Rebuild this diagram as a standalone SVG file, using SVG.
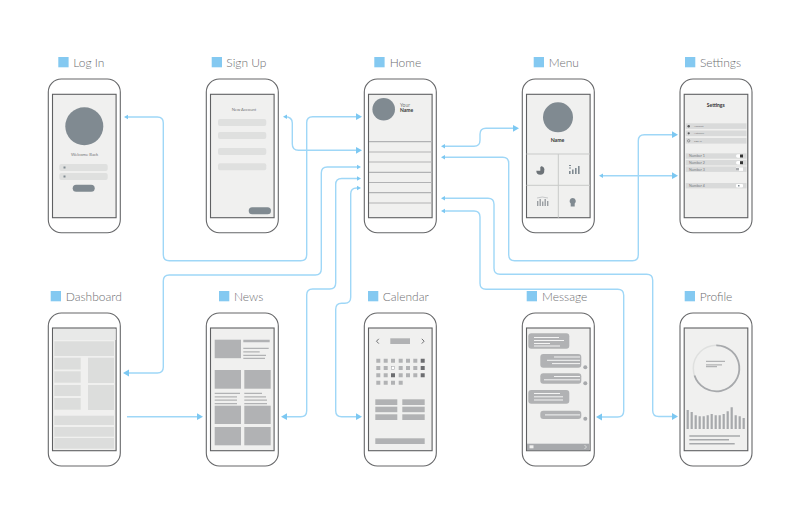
<svg xmlns="http://www.w3.org/2000/svg" width="790" height="526" viewBox="0 0 790 526">
<style>
.body{fill:#fff;stroke:#666769;stroke-width:1.1}
.scr{fill:#f0f0ef;stroke:#5f6062;stroke-width:1.1}
.sq{fill:#84c9f1}
.lb{font-family:Lato,"Liberation Sans",sans-serif;font-size:12px;font-weight:300;fill:#6d6e71}
.t{font-family:Lato,"Liberation Sans",sans-serif;fill:#77787a;text-anchor:middle}
.b{font-weight:700;fill:#333}
.av{fill:#808a91}
.f{fill:#dfe0df}
.g{fill:#b1b2b4}
.d{fill:#dcdddc}
.ln{stroke:#b1b2b4;stroke-width:1.2;fill:none}
.wl{stroke:#f4f4f4;stroke-width:1;fill:none}
.c{fill:none;stroke:#9fd7f7;stroke-width:1.4}
.r{fill:#d9dada}
.st{font-family:Lato,"Liberation Sans",sans-serif;font-size:3.6px;fill:#77787a}
</style>
<defs>
<marker id="s" markerUnits="userSpaceOnUse" markerWidth="6" markerHeight="6" refX="3" refY="3" orient="auto-start-reverse"><path d="M1 .8L5 3L1 5.2Z" fill="#7cc8f2"/></marker>
<marker id="l" markerUnits="userSpaceOnUse" markerWidth="7" markerHeight="8" refX="3" refY="4" orient="auto-start-reverse"><path d="M0 .6L6 4L0 7.4Z" fill="#7cc8f2"/></marker>
<g id="top"><rect class="body" x="0" y="0" width="72" height="153.7" rx="13"/><rect class="scr" x="4.2" y="15.3" width="63.6" height="123.4"/></g>
<g id="bot"><rect class="body" x="0" y="0" width="72" height="153" rx="13"/><rect class="scr" x="4.2" y="15" width="63.6" height="122.7"/></g>
</defs>
<rect width="790" height="526" fill="#fff"/>

<g id="connectors">
<path class="c" marker-start="url(#s)" marker-end="url(#l)" d="M126 117H157.3Q163.3 117 163.3 123V254.7Q163.3 260.7 169.3 260.7H300.7Q306.7 260.7 306.7 254.7V122.7Q306.7 116.7 312.7 116.7H359"/>
<path class="c" marker-start="url(#s)" marker-end="url(#l)" d="M285 116.7Q292.3 116.7 292.3 123V144Q292.3 150.3 298.5 150.3H359"/>
<path class="c" marker-start="url(#l)" marker-end="url(#s)" d="M126 373H157.3Q163.3 373 163.3 367V281Q163.3 275 169.3 275H315.3Q321.3 275 321.3 269V173Q321.3 167 327.3 167H359"/>
<path class="c" marker-start="url(#l)" marker-end="url(#s)" d="M284 416.7H300.7Q306.7 416.7 306.7 410.7V295Q306.7 289 312.7 289H329.7Q335.7 289 335.7 283V184.5Q335.7 178.5 341.7 178.5H359"/>
<path class="c" marker-start="url(#l)" marker-end="url(#s)" d="M359 416.7H341.7Q335.7 416.7 335.7 410.7V309.3Q335.7 303.3 341.7 303.3H344.7Q350.7 303.3 350.7 297.3V194Q350.7 188 356.7 188H359"/>
<path class="c" marker-start="url(#s)" marker-end="url(#l)" d="M443 146.3H474Q480 146.3 480 140.3V134.3Q480 128.3 486 128.3H516"/>
<path class="c" marker-start="url(#s)" marker-end="url(#l)" d="M443 157.3H502.7Q508.7 157.3 508.7 163.3V254.7Q508.7 260.7 514.7 260.7H632.3Q638.3 260.7 638.3 254.7V140.7Q638.3 134.7 644.3 134.7H675"/>
<path class="c" marker-start="url(#s)" marker-end="url(#l)" d="M601 175.7H675"/>
<path class="c" marker-start="url(#s)" marker-end="url(#l)" d="M443 198.3H488Q494 198.3 494 204.3V268.3Q494 274.3 500 274.3H646.7Q652.7 274.3 652.7 280.3V410.5Q652.7 416.5 658.7 416.5H675"/>
<path class="c" marker-start="url(#s)" marker-end="url(#l)" d="M443 211H474Q480 211 480 217V283.3Q480 289.3 486 289.3H617.7Q623.7 289.3 623.7 295.3V411Q623.7 417 617.7 417H599"/>
<path class="c" marker-end="url(#l)" d="M127 416.7H200"/>
</g>

<g id="login">
<rect class="sq" x="58.3" y="57" width="10.3" height="10.3"/><text class="lb" x="73.3" y="66.7">Log In</text>
<use href="#top" x="48.3" y="79"/>
<circle class="av" cx="84.3" cy="126.3" r="19"/>
<text class="t" x="84.5" y="155.5" font-size="4.2">Welcome Back</text>
<rect class="f" x="59.3" y="164" width="48.4" height="7" rx="2"/><rect class="f" x="59.3" y="173" width="48.4" height="7" rx="2"/>
<rect x="63.5" y="166.5" width="2" height="2" fill="#808a91"/><rect x="63.5" y="175.5" width="2" height="2" fill="#808a91"/>
<rect class="av" x="72.7" y="184.7" width="22" height="7" rx="3.5"/>
</g>

<g id="signup">
<rect class="sq" x="211.7" y="57" width="10.3" height="10.3"/><text class="lb" x="226.3" y="66.7">Sign Up</text>
<use href="#top" x="206.3" y="79"/>
<text class="t" x="244" y="110.5" font-size="4.2">New Account</text>
<rect class="f" x="218" y="119" width="48.3" height="7" rx="2"/><rect class="f" x="218" y="132" width="48.3" height="7" rx="2"/><rect class="f" x="218" y="148" width="48.3" height="7" rx="2"/><rect class="f" x="218" y="163.3" width="48.3" height="7" rx="2"/>
<rect class="av" x="248.7" y="207.3" width="22.3" height="7" rx="3.5"/>
</g>

<g id="home">
<rect class="sq" x="374.3" y="57" width="10.3" height="10.3"/><text class="lb" x="389.7" y="66.7">Home</text>
<use href="#top" x="364.3" y="79"/>
<circle class="av" cx="383.7" cy="109.3" r="11.3"/>
<text class="t" x="400" y="106.5" font-size="5" style="text-anchor:start">Your</text>
<text class="t b" x="400" y="111.8" font-size="5" style="text-anchor:start">Name</text>
<path class="ln" d="M369 141.7H432M369 152H432M369 162H432M369 172.3H432M369 182.5H432M369 192.7H432M369 203H432"/>
</g>

<g id="menu">
<rect class="sq" x="533.7" y="57" width="10.3" height="10.3"/><text class="lb" x="548.7" y="66.7">Menu</text>
<use href="#top" x="522.3" y="79"/>
<circle class="av" cx="558" cy="117.3" r="15"/>
<text class="t b" x="557.5" y="142" font-size="5.200">Name</text>
<path d="M526.5 154H590M526.5 185.3H590M558.3 154V217.7" stroke="#c9cac9" stroke-width="1" fill="none"/>
<path d="M540.300 166.700A4 4 0 1 1 536.300 170.700H540.300Z" fill="#6d7378"/><path d="M541 166.200A4 4 0 0 1 544.500 169.800H541Z" fill="#6d7378"/>
<path d="M569 174h1.600v-3h-1.600zM572 174h1.600v-4.500h-1.600zM575 174h1.600v-6h-1.600zM578 174h1.600v-8h-1.600z" fill="#808a91"/>
<path d="M569 165h2v1h-2zM569 167.500h2v1h-2z" fill="#808a91"/>
<path d="M537 206h1.400v-5h-1.400zM539.500 206h1.400v-7h-1.400zM542 206h1.400v-4.500h-1.400zM544.500 206h1.400v-7h-1.400zM547 206h1.400v-5h-1.400z" fill="#9a9ea2"/>
<path d="M537 198q5-2 11 0" fill="none" stroke="#9a9ea2" stroke-width=".5"/>
<path d="M572.700 198a3.200 3.200 0 0 1 2 5.600v2.800h-4v-2.800a3.200 3.200 0 0 1 2-5.600z" fill="#808a91"/>
</g>

<g id="settings">
<rect class="sq" x="685" y="57" width="10.300" height="10.300"/><text class="lb" x="700" y="66.700">Settings</text>
<use href="#top" x="680" y="79"/>
<text class="t b" x="715.700" y="107" font-size="5">Settings</text>
<rect class="r" x="685.700" y="123.300" width="60.800" height="5.600"/><rect class="r" x="685.700" y="130.500" width="60.800" height="5.600"/><rect class="r" x="685.700" y="138" width="60.800" height="5.600"/>
<rect class="r" x="685.700" y="153.300" width="60.800" height="5.400"/><rect class="r" x="685.700" y="160" width="60.800" height="5.400"/><rect class="r" x="685.700" y="166.500" width="60.800" height="5.400"/><rect class="r" x="685.700" y="183" width="60.800" height="5.400"/>
<circle cx="688.700" cy="126.200" r="1.200" fill="#58595b"/><circle cx="688.700" cy="133.300" r="1.100" fill="#58595b"/><circle cx="688.700" cy="140.800" r="1.200" fill="none" stroke="#58595b" stroke-width=".5"/>
<text class="st" x="694" y="126.800" style="font-size:2.600px">Account</text><text class="st" x="694" y="134" style="font-size:2.600px">Network</text><text class="st" x="694" y="141.600" style="font-size:2.600px">Sign In</text>
<text class="st" x="689" y="157.400">Number 1</text><text class="st" x="689" y="164.100">Number 2</text><text class="st" x="689" y="170.600">Number 3</text><text class="st" x="689" y="187.100">Number 4</text>
<rect x="736" y="154.300" width="6.500" height="3.400" rx="1.700" fill="#fff"/><rect x="740" y="154.500" width="3" height="3" fill="#333"/>
<rect x="736" y="161" width="6.500" height="3.400" rx="1.700" fill="#fff"/><rect x="740" y="161.200" width="3" height="3" fill="#333"/>
<rect x="736" y="167.500" width="7" height="3.400" fill="#fff"/><rect x="736" y="168" width="3" height="2.500" fill="#a7a9ac"/>
<rect x="736" y="184" width="7" height="3.400" rx="1" fill="#fff"/><rect x="738" y="185" width="1.500" height="1.500" fill="#808a91"/>
</g>

<g id="dashboard">
<rect class="sq" x="50.700" y="291" width="10.300" height="10.300"/><text class="lb" x="65.700" y="300.700">Dashboard</text>
<use href="#bot" x="48.300" y="313"/>
<rect x="53" y="329" width="62.700" height="11" fill="#e8e9e8"/>
<rect class="d" x="54.300" y="341.300" width="59.700" height="14.700"/>
<rect class="d" x="54.300" y="357.700" width="26.400" height="11.800"/><rect class="d" x="54.300" y="371.300" width="26.400" height="11.400"/><rect class="d" x="54.300" y="385" width="26.400" height="11"/><rect class="d" x="54.300" y="398" width="26.400" height="11.700"/>
<rect class="d" x="88" y="357.700" width="26" height="25.300"/><rect class="d" x="88" y="385" width="26" height="25"/>
<rect class="d" x="54.300" y="415.700" width="59.700" height="9.300"/><rect class="d" x="54.300" y="427" width="59.700" height="9.700"/><rect class="d" x="54.300" y="438" width="59.700" height="10.700"/>
</g>

<g id="news">
<rect class="sq" x="219" y="291" width="10.300" height="10.300"/><text class="lb" x="234" y="300.700">News</text>
<use href="#bot" x="206.300" y="313"/>
<rect class="g" x="214.700" y="339.700" width="26.300" height="18.500"/>
<path d="M243.300 341H269.700" stroke="#b1b2b4" stroke-width="2.500"/>
<path class="ln" d="M243.300 348.300H268.700M243.300 351.800H259.700M243.300 355.300H266M243.300 358.300H265"/>
<rect class="g" x="214.700" y="370" width="26.300" height="18.700"/><rect class="g" x="244.300" y="370" width="26.400" height="18.700"/>
<path class="ln" d="M214.700 393.300H240M214.700 396.800H237M214.700 400.200H237M214.700 403.600H237M244.300 393.300H262M244.300 396.800H266M244.300 400.200H267M244.300 403.600H267"/>
<rect class="g" x="214.700" y="405.700" width="26.300" height="18.300"/><rect class="g" x="244.300" y="405.700" width="26.400" height="18.300"/>
<rect class="g" x="214.700" y="427" width="26.300" height="18.300"/><rect class="g" x="244.300" y="427" width="26.400" height="18.300"/>
</g>

<g id="calendar">
<rect class="sq" x="368" y="291" width="10.300" height="10.300"/><text class="lb" x="382.700" y="300.700">Calendar</text>
<use href="#bot" x="364.300" y="313"/>
<path d="M378.800 338.800L376.500 341.200L378.800 343.600M421.800 338.800L424.100 341.200L421.800 343.600" fill="none" stroke="#6d6e71" stroke-width="1"/>
<rect class="g" x="390.300" y="338.300" width="19.700" height="5.700"/>
<path class="g" d="M376.300 358.700h4v4h-4zM383.700 358.700h4v4h-4zM391 358.700h4v4h-4zM398.700 358.700h4v4h-4zM406 358.700h4v4h-4zM413.300 358.700h4v4h-4zM376.300 366h4v4h-4zM383.700 366h4v4h-4zM398.700 366h4v4h-4zM406 366h4v4h-4zM413.300 366h4v4h-4zM376.300 373.300h4v4h-4zM383.700 373.300h4v4h-4zM398.700 373.300h4v4h-4zM406 373.300h4v4h-4zM413.300 373.300h4v4h-4zM376.300 380.700h4v4h-4zM383.700 380.700h4v4h-4zM391 380.700h4v4h-4zM398.700 380.700h4v4h-4z"/>
<path d="M420.700 358.700h4v4h-4zM420.700 366h4v4h-4zM420.700 373.300h4v4h-4zM391 373.300h4v4h-4z" fill="#6d6e71"/>
<rect x="391.300" y="366.300" width="3.400" height="3.400" fill="#fff" stroke="#a7a9ac" stroke-width=".6"/>
<rect class="g" x="375.300" y="399.300" width="22" height="5.700"/><rect class="g" x="402.300" y="399.300" width="22.400" height="5.700"/>
<rect class="g" x="375.300" y="406.700" width="22" height="5.500"/><rect class="g" x="402.300" y="406.700" width="22.400" height="5.500"/>
<rect class="g" x="375.300" y="414.300" width="22" height="5.700"/><rect class="g" x="402.300" y="414.300" width="22.400" height="5.700"/>
<rect class="g" x="375.300" y="438.300" width="49.400" height="5.700"/>
</g>

<g id="message">
<rect class="sq" x="526.700" y="291" width="10.300" height="10.300"/><text class="lb" x="542" y="300.700">Message</text>
<use href="#bot" x="522.300" y="313"/>
<rect class="g" x="528.300" y="333.300" width="41" height="15.400" rx="3"/>
<rect class="g" x="540.300" y="354" width="41" height="13.700" rx="3"/>
<rect class="g" x="540.300" y="373.300" width="41" height="10.400" rx="3"/>
<rect class="g" x="528.300" y="390" width="41" height="13.700" rx="3"/>
<rect class="g" x="540.300" y="410.700" width="41" height="8.300" rx="3"/>
<path class="wl" d="M534 337.500H559M534 340.500H564M534 343.500H550M534 346H560M554 357H580M547 360.300H580M552 363.600H580M554 376.500H580M544 379.800H580M534 393.500H560M534 396.800H563M534 400H563M545 414.900H580"/>
<circle cx="585.300" cy="367.300" r="2" fill="#a7a9ac"/><circle cx="585.300" cy="383.300" r="2" fill="#a7a9ac"/><circle cx="585.300" cy="418.700" r="2" fill="#a7a9ac"/>
<rect x="527" y="443.700" width="62.500" height="6.500" fill="#a7a9ac"/>
<rect x="529.500" y="445.300" width="4" height="3" fill="#f0f0ef"/>
<path d="M584.500 445L586.500 447L584.500 449" fill="none" stroke="#f0f0ef" stroke-width=".7"/>
</g>

<g id="profile">
<rect class="sq" x="684.700" y="291" width="10.300" height="10.300"/><text class="lb" x="699.700" y="300.700">Profile</text>
<use href="#bot" x="680" y="313"/>
<circle cx="716.300" cy="368.300" r="23" fill="none" stroke="#dfe0df" stroke-width="1.500"/>
<path d="M716.300 345.300A23 23 0 1 1 694.500 375.500" fill="none" stroke="#a7a9ac" stroke-width="1.800"/>
<path class="ln" d="M706 361.300H725M706 364.800H722M706 366.700H717"/>
<path d="M687.700 429V410M691.700 429V412M695.700 429V415.300M699.700 429V416.300M703.700 429V416.300M707.700 429V415.300M711.700 429V414M715.700 429V415.300M719.700 429V415.300M723.700 429V414M727.700 429V411.300M731.700 429V407.300M735.700 429V415.300M739.700 429V416.300M743.700 429V418" stroke="#a7a9ac" stroke-width="2.200" fill="none"/>
<path d="M689.300 436H740M689.300 439.700H729M689.300 443.700H734.700" stroke="#a7a9ac" stroke-width="1.500" fill="none"/>
</g>
</svg>
